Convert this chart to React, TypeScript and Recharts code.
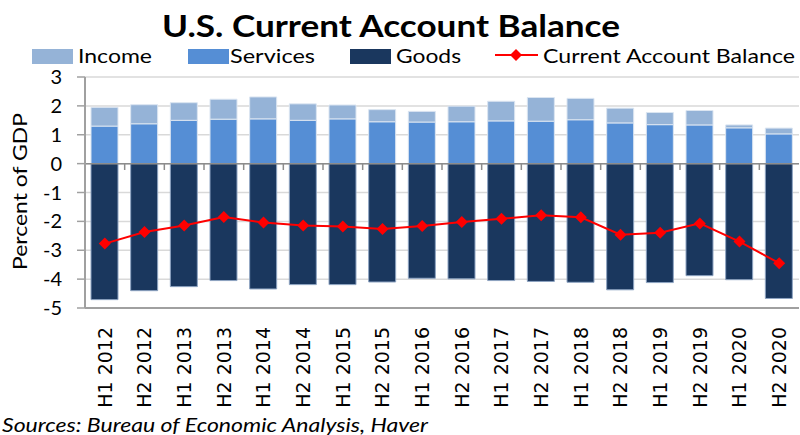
import React from 'react';
import {
  ComposedChart, Bar, Line, XAxis, YAxis, CartesianGrid, ReferenceLine,
} from 'recharts';

const categories = ['H1 2012', 'H2 2012', 'H1 2013', 'H2 2013', 'H1 2014', 'H2 2014', 'H1 2015', 'H2 2015', 'H1 2016', 'H2 2016', 'H1 2017', 'H2 2017', 'H1 2018', 'H2 2018', 'H1 2019', 'H2 2019', 'H1 2020', 'H2 2020'];
const income = [0.65, 0.66, 0.61, 0.69, 0.76, 0.57, 0.48, 0.42, 0.37, 0.54, 0.68, 0.82, 0.74, 0.51, 0.42, 0.50, 0.10, 0.20];
const services = [1.30, 1.38, 1.50, 1.54, 1.55, 1.50, 1.55, 1.45, 1.44, 1.45, 1.48, 1.47, 1.52, 1.41, 1.35, 1.34, 1.24, 1.03];
const goods = [-4.71, -4.40, -4.26, -4.05, -4.34, -4.19, -4.19, -4.10, -3.97, -3.99, -4.05, -4.08, -4.11, -4.37, -4.12, -3.88, -4.02, -4.67];
const cab = [-2.77, -2.37, -2.14, -1.85, -2.04, -2.14, -2.18, -2.26, -2.16, -2.02, -1.91, -1.79, -1.86, -2.46, -2.39, -2.07, -2.70, -3.45];
const yTicks = [3, 2, 1, 0, -1, -2, -3, -4, -5];

const title = 'U.S. Current Account Balance';
const yLabel = 'Percent of GDP';
const source = 'Sources: Bureau of Economic Analysis, Haver';

const COLORS = { income: '#95b3d7', services: '#558ed5', goods: '#1a375e', cab: '#ff0000' };

const data = categories.map((c, i) => ({
  cat: c, income: income[i], services: services[i], goods: goods[i], cab: cab[i],
}));

const legendItems = [
  { name: 'Income', color: COLORS.income, type: 'rect', sx: 32, tx: 78, tl: 74 },
  { name: 'Services', color: COLORS.services, type: 'rect', sx: 188, tx: 230, tl: 85 },
  { name: 'Goods', color: COLORS.goods, type: 'rect', sx: 350, tx: 396, tl: 65 },
  { name: 'Current Account Balance', color: COLORS.cab, type: 'line', sx: 495, tx: 543, tl: 252 },
];

const FONT = 'Lato, "Open Sans", sans-serif';

const Diamond = (props: any) => {
  const { cx, cy } = props;
  if (cx == null || cy == null) return null;
  const r = 6;
  return <polygon points={`${cx},${cy - r} ${cx + r},${cy} ${cx},${cy + r} ${cx - r},${cy}`} fill={COLORS.cab} stroke="none" />;
};

const XTick = (props: any) => {
  const { x, y, payload } = props;
  return (
    <text
      transform={`translate(${x},${y + 19}) rotate(-90)`}
      textAnchor="end"
      dy="0.36em"
      fontFamily='"DejaVu Sans", sans-serif'
      fontSize={19}
      fill="#000"
    >
      {payload.value}
    </text>
  );
};

export default function App() {
  return (
    <div style={{ position: 'absolute', left: 0, top: 0, width: 800, height: 435, background: '#fff' }}>
      <ComposedChart
        width={800}
        height={435}
        data={data}
        stackOffset="sign"
        margin={{ top: 77, right: 1, bottom: 0, left: 0 }}
      >
        <CartesianGrid vertical={false} stroke="#d9d9d9" strokeWidth={1.5} />
        <XAxis
          dataKey="cat"
          interval={0}
          tickLine={false}
          tickSize={0}
          tickMargin={0}
          height={127}
          axisLine={{ stroke: '#a0a0a0', strokeWidth: 2 }}
          tick={<XTick />}
        />
        <XAxis xAxisId="top" orientation="top" dataKey="cat" height={0} tick={false} tickLine={false} axisLine={{ stroke: '#a0a0a0', strokeWidth: 2 }} />
        <YAxis
          domain={[-5, 3]}
          ticks={yTicks}
          interval={0}
          width={85}
          tickSize={8}
          tickMargin={15}
          axisLine={{ stroke: '#a0a0a0', strokeWidth: 2 }}
          tickLine={{ stroke: '#a0a0a0', strokeWidth: 1.5 }}
          tick={{ fill: '#000', fontSize: 20, fontFamily: FONT }}
        />
        <YAxis yAxisId="right" orientation="right" width={0} tick={false} tickLine={false} axisLine={{ stroke: '#a0a0a0', strokeWidth: 2 }} />
        <Bar dataKey="services" name="Services" stackId="a" fill={COLORS.services} stroke="#dbe5f1" strokeWidth={1} barSize={27} isAnimationActive={false} />
        <Bar dataKey="income" name="Income" stackId="a" fill={COLORS.income} stroke="#dbe5f1" strokeWidth={1} barSize={27} isAnimationActive={false} />
        <Bar dataKey="goods" name="Goods" stackId="a" fill={COLORS.goods} stroke="#8ea4c2" strokeWidth={1} barSize={27} isAnimationActive={false} />
        <ReferenceLine y={0} stroke="#8c8c8c" strokeWidth={1.5} />
        {categories.slice(1).map((c) => (
          <ReferenceLine
            key={c}
            segment={[{ x: c, y: 0 }, { x: c, y: -0.22 }]}
            position="start"
            stroke="#8c8c8c"
            strokeWidth={1.5}
          />
        ))}
        <Line
          dataKey="cab"
          name="Current Account Balance"
          stroke={COLORS.cab}
          strokeWidth={2}
          dot={<Diamond />}
          activeDot={false}
          isAnimationActive={false}
        />
      </ComposedChart>
      <svg width={800} height={435} style={{ position: 'absolute', left: 0, top: 0, pointerEvents: 'none' }}>
        <text x={162} y={37} fontFamily={FONT} fontWeight={700} fontSize={30} textLength={458} lengthAdjust="spacingAndGlyphs" fill="#000">
          {title}
        </text>
        {legendItems.map((it) => (
          <g key={it.name}>
            {it.type === 'rect' ? (
              <rect x={it.sx} y={49} width={41} height={15} fill={it.color} />
            ) : (
              <g>
                <line x1={it.sx} x2={it.sx + 43} y1={55} y2={55} stroke={it.color} strokeWidth={2} />
                <polygon points={`516,49 522,55 516,61 510,55`} fill={it.color} />
              </g>
            )}
            <text x={it.tx} y={62.5} fontFamily={FONT} fontSize={20} textLength={it.tl} lengthAdjust="spacingAndGlyphs" fill="#000">
              {it.name}
            </text>
          </g>
        ))}
        <text
          transform="translate(27,191.5) rotate(-90)"
          textAnchor="middle"
          fontFamily={FONT}
          fontSize={20}
          textLength={157}
          lengthAdjust="spacingAndGlyphs"
          fill="#000"
        >
          {yLabel}
        </text>
        <text x={2} y={431.5} fontFamily={FONT} fontStyle="italic" fontSize={19} textLength={426} lengthAdjust="spacingAndGlyphs" fill="#000">
          {source}
        </text>
      </svg>
    </div>
  );
}
